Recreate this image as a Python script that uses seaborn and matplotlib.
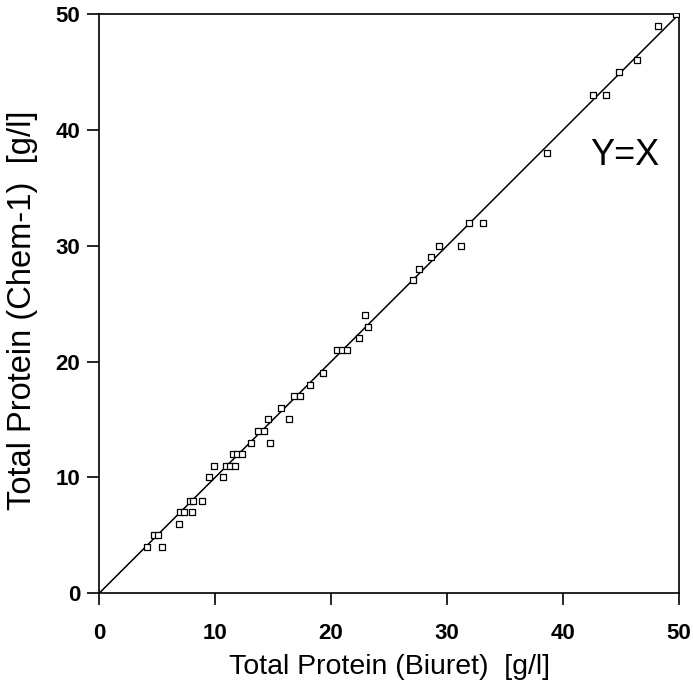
import matplotlib
matplotlib.use("Agg")
import matplotlib.pyplot as plt
import seaborn as sns
import pandas as pd

# Total protein measured by Biuret (x) vs Chem-1 (y), g/l
biuret = [4.1, 4.7, 5.1, 5.4, 6.9, 7.0, 7.3, 8.0, 7.8, 8.1, 8.9, 9.5, 9.9, 10.7,
          10.9, 11.3, 11.7, 11.5, 11.9, 12.3, 13.1, 14.7, 13.7, 14.2, 14.6, 16.4,
          15.7, 16.8, 17.3, 18.2, 19.3, 20.5, 20.9, 21.4, 22.4, 23.2, 22.9,
          27.1, 27.6, 28.6, 29.3, 31.2, 31.9, 33.1, 38.6, 42.6, 43.7, 44.8, 46.4,
          48.2, 49.7]
chem1 = [4, 5, 5, 4, 6, 7, 7, 7, 8, 8, 8, 10, 11, 10,
         11, 11, 11, 12, 12, 12, 13, 13, 14, 14, 15, 15,
         16, 17, 17, 18, 19, 21, 21, 21, 22, 23, 24,
         27, 28, 29, 30, 30, 32, 32, 38, 43, 43, 45, 46,
         49, 50]
identity = [0, 50]
ticks = [0, 10, 20, 30, 40, 50]

df = pd.DataFrame({"biuret": biuret, "chem1": chem1})
line_df = pd.DataFrame({"x": identity, "y": identity})

sns.set_style("ticks")
plt.rcParams["font.family"] = ["Liberation Sans", "DejaVu Sans"]
plt.rcParams["text.color"] = "black"
plt.rcParams["axes.labelcolor"] = "black"

fig = plt.figure(figsize=(6.93, 6.98), dpi=100)
ax = fig.add_axes([0.143, 0.150, 0.837, 0.830])

sns.lineplot(data=line_df, x="x", y="y", color="black", linewidth=1.1, ax=ax)
sns.scatterplot(data=df, x="biuret", y="chem1", marker="s", s=18,
                facecolor="white", edgecolor="black", linewidth=0.9, ax=ax, zorder=3)

ax.set_xlim(0, 50)
ax.set_ylim(0, 50)
ax.set_xticks(ticks)
ax.set_yticks(ticks)
tick_font = ["Liberation Sans Narrow", "Liberation Sans", "DejaVu Sans"]
ax.set_xticklabels([str(t) for t in ticks], fontsize=16, fontweight="bold",
                   family=tick_font, color="black")
ax.set_yticklabels([str(t) for t in ticks], fontsize=16, fontweight="bold",
                   family=tick_font, color="black")
ax.tick_params(axis="both", direction="out", length=8.5, width=1.2, color="black")
ax.tick_params(axis="x", pad=13)
ax.tick_params(axis="y", pad=5)

for side in ["top", "right", "left", "bottom"]:
    ax.spines[side].set_visible(True)
    ax.spines[side].set_color("black")
    ax.spines[side].set_linewidth(1.2)

ax.set_xlabel("Total Protein (Biuret)  [g/l]", fontsize=20.5)
ax.set_ylabel("Total Protein (Chem-1)  [g/l]", fontsize=23.5)
ax.xaxis.set_label_coords(0.5, -0.104)
ax.yaxis.set_label_coords(-0.106, 0.489)

ax.text(42.3, 37.8, "Y=X", fontsize=26, va="center", ha="left")

fig.savefig("out.png", dpi=100)
